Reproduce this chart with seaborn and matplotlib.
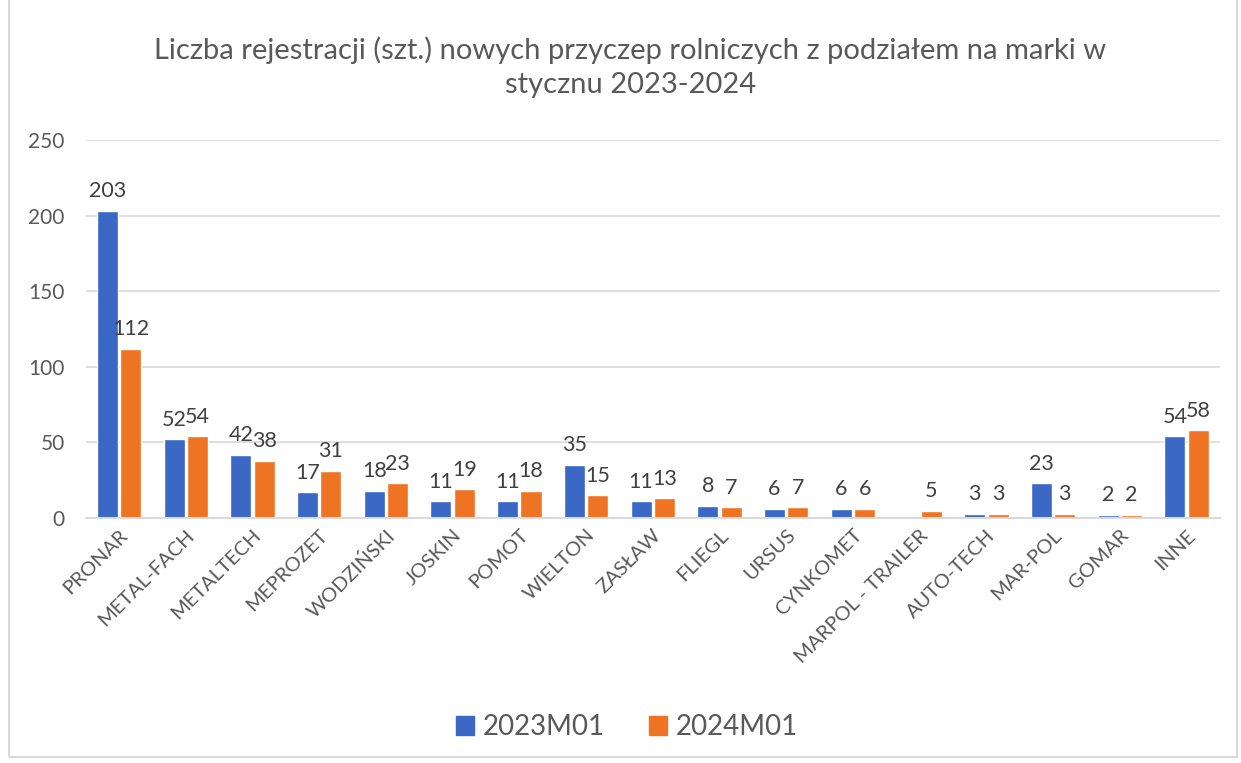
import numpy as np
import pandas as pd
import matplotlib.pyplot as plt
import seaborn as sns
from matplotlib.patches import Rectangle

marki = ["PRONAR", "METAL-FACH", "METALTECH", "MEPROZET", "WODZIŃSKI", "JOSKIN",
         "POMOT", "WIELTON", "ZASŁAW", "FLIEGL", "URSUS", "CYNKOMET",
         "MARPOL - TRAILER", "AUTO-TECH", "MAR-POL", "GOMAR", "INNE"]
rej_2023 = [203, 52, 42, 17, 18, 11, 11, 35, 11, 8, 6, 6, np.nan, 3, 23, 2, 54]
rej_2024 = [112, 54, 38, 31, 23, 19, 18, 15, 13, 7, 7, 6, 5, 3, 3, 2, 58]
okresy = ["2023M01", "2024M01"]

df = pd.DataFrame({
    "marka": marki * 2,
    "okres": [okresy[0]] * len(marki) + [okresy[1]] * len(marki),
    "liczba": rej_2023 + rej_2024,
})

sns.set_theme(style="white")
plt.rcParams["font.family"] = ["Lato", "DejaVu Sans"]
kolor_tekstu = "#595959"
kolory = ["#3A68C4", "#EE7424"]

fig = plt.figure(figsize=(12.41, 7.63), dpi=100)
ax = fig.add_axes([0.069, 0.321, 0.914, 0.4955])

sns.barplot(data=df, x="marka", y="liczba", hue="okres",
            palette=kolory, width=0.7, gap=0.1,
            saturation=1, ax=ax, legend=False)

for cont in ax.containers:
    etykiety = ["" if np.isnan(v) else f"{int(v)}" for v in cont.datavalues]
    ax.bar_label(cont, labels=etykiety, padding=7, fontsize=15.5, color="#404040")

ax.set_ylim(0, 250)
ax.set_yticks(range(0, 251, 50))
ax.set_xlim(-0.5, len(marki) - 0.5)
ax.grid(axis="y", color="#D9D9D9", linewidth=1.2)
ax.set_axisbelow(True)
for s in ["top", "right", "left"]:
    ax.spines[s].set_visible(False)
ax.spines["bottom"].set_color("#D9D9D9")
ax.spines["bottom"].set_linewidth(1.5)
ax.set_xlabel("")
ax.set_ylabel("")
ax.tick_params(axis="y", labelsize=15, labelcolor=kolor_tekstu, length=0, pad=15)
ax.tick_params(axis="x", labelsize=14.5, labelcolor=kolor_tekstu, length=0, pad=6)
plt.setp(ax.get_xticklabels(), rotation=45, ha="right", rotation_mode="anchor")

fig.text(0.508, 0.912,
         "Liczba rejestracji (szt.) nowych przyczep rolniczych z podziałem na marki w\nstycznu 2023-2024",
         ha="center", va="center", fontsize=21, color=kolor_tekstu, linespacing=1.35)

uchwyty = [Rectangle((0, 0), 1, 1, color=c) for c in kolory]
fig.legend(uchwyty, okresy, loc="center", bbox_to_anchor=(0.505, 0.047), ncol=2,
           frameon=False, fontsize=20, labelcolor=kolor_tekstu,
           handlelength=0.65, handleheight=0.65, handletextpad=0.3, columnspacing=1.6)

fig.patches.append(Rectangle((0.007, 0.008), 0.99, 1.2, transform=fig.transFigure,
                             fill=False, edgecolor="#D9D9D9", linewidth=1.5))

fig.savefig("out.png", dpi=100)
